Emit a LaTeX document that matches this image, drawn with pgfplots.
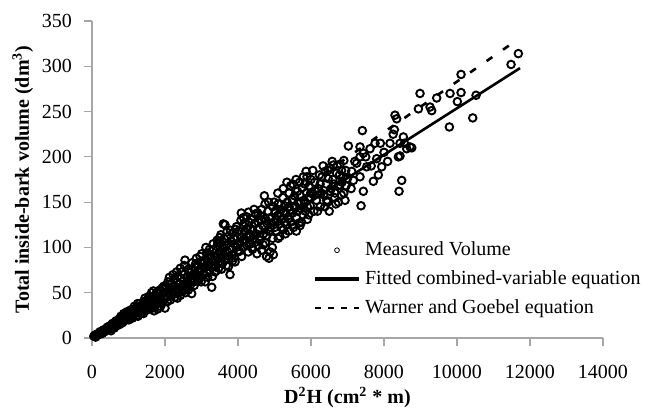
\documentclass[border=0pt]{standalone}
\usepackage{fontspec}
\setmainfont{Liberation Serif}
\usepackage{pgfplots}
\pgfplotsset{compat=1.18}
\begin{document}
\begin{tikzpicture}
\useasboundingbox (-46pt,-37pt) rectangle (281.5pt,169pt);
\begin{axis}[
    scale only axis, width=255.5pt, height=158.5pt,
    xmin=0, xmax=14000, ymin=0, ymax=350,
    axis x line*=bottom, axis y line*=left,
    axis line style={gray!70, line width=0.6pt, -},
    tick style={gray!70, line width=0.6pt},
    tick align=outside, major tick length=4pt,
    xtick={0,2000,...,14000}, ytick={0,50,...,350},
    scaled x ticks=false,
    x tick label style={/pgf/number format/1000 sep={}, yshift=-6pt},
    y tick label style={xshift=-2.5pt},
    /pgf/number format/assume math mode=true,
    xlabel={\textbf{D\textsuperscript{2}H (cm\textsuperscript{2} * m)}},
    ylabel={\textbf{Total inside-bark volume (dm\textsuperscript{3})}},
    xlabel shift=-2.5pt, ylabel shift=-2.5pt,
    legend style={draw=none, fill=none, at={(0.42,0.33)}, anchor=north west,
      row sep=2pt},
    legend cell align=left
]
% measured volume
\addplot[only marks, mark=o, mark size=1.9pt, line width=0.95pt, black, forget plot] coordinates {
(50,2) (80,3) (100,1) (120,4) (150,3) (180,5) (200,4) (220,7) (250,6) (280,5)
(300,8) (320,9) (350,7) (380,10) (400,9) (420,12) (450,11) (480,13) (500,10) (530,14)
(560,12) (600,15) (620,17) (650,13) (680,16) (700,19) (720,17) (750,21) (780,18) (800,22)
(830,20) (850,24) (880,19) (900,25) (930,23) (950,21) (980,27) (1000,24)
(520,8) (560,16) (610,11) (660,19) (700,14) (760,15) (790,24) (840,17) (870,27) (920,20)
(960,29) (1010,20) (1060,31) (1110,22) (1160,35) (1210,28) (1260,24) (1310,38) (1360,32) (1410,27)
(1460,41) (1510,31) (1560,46) (1610,36) (1660,43) (1710,34) (1760,50) (1810,39) (1860,53) (1910,38)
(1960,57) (1630,50) (1700,30) (1450,44) (1250,38)
(1020,28) (1050,22) (1080,30) (1100,26) (1120,24) (1150,32) (1180,27) (1200,30) (1220,25) (1250,33)
(1280,29) (1300,35) (1320,31) (1350,28) (1380,36) (1400,33) (1420,38) (1450,30) (1480,37) (1500,40)
(1520,34) (1550,42) (1580,36) (1600,39) (1620,45) (1650,33) (1680,52) (1700,41) (1720,47) (1750,37)
(1780,44) (1800,32) (1820,49) (1850,42) (1880,35) (1900,47) (1920,55) (1950,40) (1980,50) (2000,33)
(2020,58) (2050,45) (2080,62) (2100,50) (2130,55) (2150,42) (2180,60) (2200,53) (2230,48) (2250,65)
(2280,57) (2300,51) (2330,62) (2350,68) (2380,55) (2400,60) (2420,47) (2450,66) (2480,58) (2500,52)
(2520,70) (2548,86) (2580,56) (2620,67) (2650,60) (2680,72) (2732,49) (2720,75) (2750,65) (2780,69)
(2800,58) (2830,78) (2850,70) (2880,63) (2900,80) (2930,73) (2950,66) (2980,84) (3000,76) (2560,50)
(2700,63) (2460,73) (2840,82) (2340,44)
(2060,40) (2120,67) (2170,51) (2220,70) (2270,45) (2320,73) (2370,50) (2420,77) (2470,54) (2530,80)
(2590,62) (2640,76) (2690,58) (2740,83) (2790,62) (2860,88) (2910,68) (2960,90) (2990,62) (2640,53)
(3005,93) (3050,70) (3080,85) (3100,78) (3143,94) (3150,72) (3180,88) (3200,80) (3230,75) (3250,92)
(3280,56) (3300,84) (3330,97) (3350,79) (3380,90) (3400,86) (3420,101) (3450,82) (3480,95) (3500,89)
(3520,105) (3550,84) (3580,99) (3600,92) (3620,110) (3644,125) (3660,87) (3680,103) (3700,96) (3720,112)
(3750,90) (3781,70) (3800,107) (3820,98) (3850,116) (3870,93) (3900,104) (3930,120) (3950,100) (3980,111)
(4000,95) (3100,62) (3300,68) (3450,105) (3550,76) (3680,80) (3850,85) (3200,90) (3400,74) (3500,111)
(3030,82) (3120,100) (3170,67) (3220,98) (3270,78) (3320,104) (3370,73) (3430,108) (3470,77) (3530,114)
(3570,82) (3630,100) (3690,117) (3740,79) (3790,119) (3830,88) (3880,110) (3920,84) (3960,123) (3990,103)
(3160,84) (3560,95) (3598,126)
(4020,118) (4050,105) (4080,130) (4100,112) (4130,100) (4150,125) (4180,117) (4200,108) (4230,134) (4250,121)
(4280,95) (4300,128) (4330,113) (4350,104) (4380,131) (4400,119) (4420,110) (4450,126) (4480,137) (4500,115)
(4520,93) (4550,128) (4580,120) (4600,108) (4620,135) (4650,97) (4680,124) (4700,115) (4722,157) (4750,132)
(4780,90) (4800,126) (4820,140) (4850,118) (4880,95) (4900,133) (4920,127) (4950,145) (4970,92) (5000,122)
(4100,90) (4400,98) (4150,133) (4550,102) (4750,105) (4850,88) (4950,110) (4300,115) (4650,142) (4250,102)
(4040,96) (4090,138) (4140,108) (4190,127) (4240,112) (4290,139) (4340,120) (4390,100) (4440,142) (4490,106)
(4540,138) (4590,112) (4640,130) (4690,103) (4740,148) (4790,113) (4840,150) (4890,122) (4940,100) (4990,150)
(4470,127) (4860,132)
(5020,140) (5050,118) (5080,135) (5100,148) (5130,126) (5150,112) (5180,142) (5200,131) (5230,155) (5250,120)
(5280,146) (5300,137) (5330,125) (5350,150) (5380,132) (5400,160) (5420,141) (5450,128) (5480,153) (5500,138)
(5520,122) (5550,157) (5580,145) (5600,133) (5630,162) (5650,149) (5680,127) (5700,158) (5720,143) (5750,166)
(5780,136) (5800,152) (5830,170) (5850,140) (5864,184) (5880,160) (5900,131) (5930,155) (5950,168) (5980,146)
(6000,175) (5100,110) (5300,115) (5500,170) (5700,124) (5900,145) (5400,145) (5600,118)
(5040,130) (5090,160) (5140,138) (5190,122) (5240,165) (5290,128) (5340,172) (5390,118) (5440,168) (5490,125)
(5540,145) (5590,175) (5640,140) (5690,172) (5740,128) (5790,178) (5840,150) (5890,178) (5940,136) (5990,160)
(5260,140) (5720,150)
(6030,160) (6080,140) (6100,172) (6150,152) (6200,165) (6250,145) (6300,178) (6350,158) (6384,184) (6420,170)
(6430,152) (6450,150) (6500,188) (6550,165) (6600,175) (6612,191) (6650,155) (6658,160) (6700,182) (6750,168)
(6795,169) (6800,192) (6840,185) (6850,172) (6900,160) (6932,152) (6950,185) (7000,176) (6250,170) (6500,140)
(6750,150) (6900,196)
(6050,185) (6120,162) (6180,140) (6230,180) (6280,160) (6330,190) (6380,145) (6470,176) (6520,162) (6580,195)
(6630,170) (6680,148) (6720,190) (6780,180) (6830,158) (6880,178) (6960,168) (6466,185)
(7024,212) (7115,184) (7160,174) (7252,193) (7343,178) (7343,211) (7343,200) (7371,146) (7407,229) (7434,204)
(7434,162) (7526,189) (7617,209) (7708,173) (7754,215) (7845,180) (7937,189) (8165,215) (8302,246) (8348,242)
(8284,230) (8393,200) (8439,215) (8485,174) (8412,162) (8530,222) (8622,209) (8713,211) (8760,210) (8439,201)
(7200,195) (7500,200) (7800,198) (8000,205) (7100,165) (7650,190) (7900,215) (8100,195) (8250,225) (8560,215)
(8943,253) (8987,270) (9261,255) (9307,251) (9444,265) (9809,270) (9791,233) (10010,261) (10111,271) (10111,291)
(10431,243) (10522,268) (11481,302) (11681,314)
};
% fitted combined-variable equation
\addplot[black, line width=1.3pt, forget plot] coordinates {(200,2) (11727,298)};
% Warner and Goebel equation
\addplot[black, line width=1.3pt, dash pattern=on 3.5pt off 6.5pt, forget plot] coordinates {(0,4) (11500,325)};
\addlegendimage{legend image code/.code={\draw[black, line width=0.4pt] (11pt,0pt) circle (1.2pt);}}
\addlegendentry{Measured Volume}
\addlegendimage{legend image code/.code={\draw[black, line width=2pt] (0pt,0pt) -- (22pt,0pt);}}
\addlegendentry{Fitted combined-variable equation}
\addlegendimage{legend image code/.code={\draw[black, line width=0.6pt, dash pattern=on 3pt off 3.5pt] (0pt,0pt) -- (22pt,0pt);}}
\addlegendentry{Warner and Goebel equation}
\end{axis}
\end{tikzpicture}
\end{document}
